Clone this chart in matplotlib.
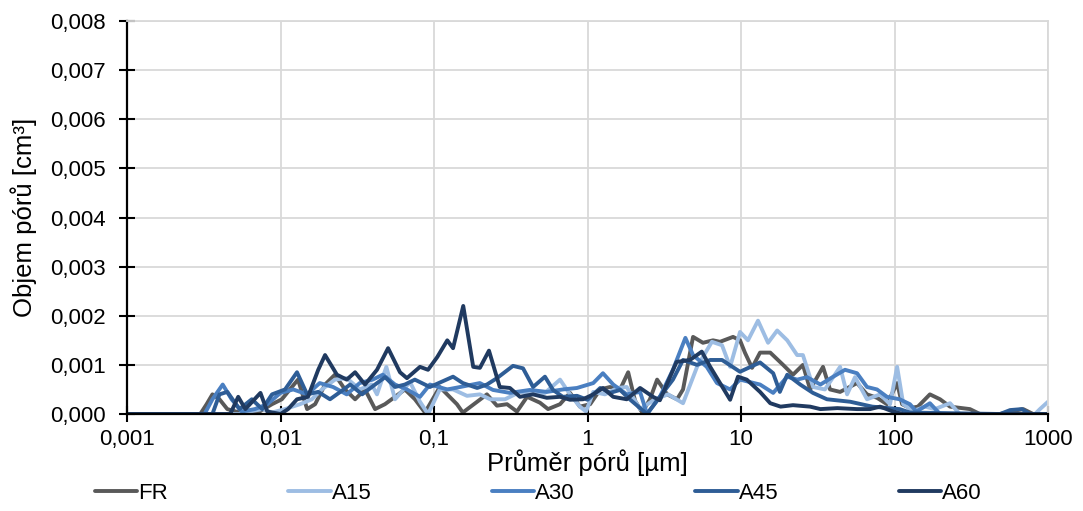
import matplotlib
matplotlib.use("Agg")
import matplotlib.pyplot as plt
from matplotlib.ticker import FixedLocator, FixedFormatter, NullLocator

plt.rcParams['font.family'] = ['Liberation Sans', 'DejaVu Sans']

# průměr pórů [µm] a objem pórů [cm3] pro jednotlivé vzorky
fr_x = [0.001, 0.003, 0.0033, 0.0036, 0.004, 0.0045, 0.0054, 0.0073, 0.0088, 0.0102, 0.0115, 0.013,
        0.0149, 0.0168, 0.0195, 0.0226, 0.0263, 0.0306, 0.0355, 0.0413, 0.0479, 0.0557, 0.0646, 0.0751,
        0.0873, 0.109, 0.141, 0.154, 0.191, 0.221, 0.257, 0.299, 0.347, 0.404, 0.49, 0.553, 0.662, 0.769,
        0.892, 1.04, 1.21, 1.4, 1.63, 1.84, 2.04, 2.27, 2.55, 2.84, 3.3, 3.83, 4.19, 4.87, 5.65, 6.57, 7.3,
        8.87, 9.85, 10.6, 11.8, 13.3, 15.5, 18.8, 21.8, 25.3, 28.2, 34.2, 38, 44.2, 57, 66.2, 76.9, 89.3,
        104, 112, 126, 142, 170, 198, 230, 310, 360, 487, 566, 689, 800, 1000]
fr_y = [0, 0, 0.0002, 0.0004, 0.0003, 0.0001, 0.00003, 0.00005, 0.0002, 0.0003, 0.0005, 0.0007,
        0.0001, 0.0002, 0.0006, 0.0008, 0.0005, 0.0003, 0.0005, 0.0001, 0.0002, 0.00035, 0.0005, 0.0003,
        0.00003, 0.00055, 0.0002, 0.00003, 0.00025, 0.0004, 0.00017, 0.0002, 0.00005, 0.00035, 0.00023,
        0.0001, 0.0002, 0.00043, 0.00015, 0.0002, 0.0005, 0.00055, 0.0005, 0.00085, 0.00027, 0.00003,
        0.0003, 0.0007, 0.0004, 0.0003, 0.0005, 0.00157, 0.00145, 0.0015, 0.00147, 0.00157, 0.0015,
        0.00125, 0.00094, 0.00125, 0.00125, 0.001, 0.0008, 0.001, 0.0005, 0.00096, 0.0005, 0.00045,
        0.00063, 0.0004, 0.00033, 0.0002, 0.00063, 0.0002, 0.00012, 0.00015, 0.0004, 0.0003, 0.00015,
        0.0001, 0, 0, 0.00005, 0.0001, 0, 0]

a15_x = [0.001, 0.0054, 0.0063, 0.0076, 0.0088, 0.0107, 0.0134, 0.016, 0.0186, 0.0226, 0.027, 0.0328,
         0.0393, 0.0425, 0.0489, 0.0557, 0.0697, 0.081, 0.0914, 0.109, 0.133, 0.164, 0.199, 0.232, 0.29,
         0.363, 0.455, 0.528, 0.662, 0.769, 0.892, 0.978, 1.09, 1.3, 1.56, 1.8, 2.2, 2.75, 3.35, 4.19,
         5.17, 6.46, 7.52, 8.49, 9.85, 11.1, 12.9, 15.0, 17.2, 20, 23.2, 25.3, 29.5, 35.2, 44.2, 49.1,
         55.3, 66.2, 80.5, 93.5, 104, 114, 132, 158, 183, 230, 266, 823, 886, 1000]
a15_y = [0, 0, 0.00005, 0.0001, 0.00003, 0.0001, 0.0002, 0.0003, 0.0005, 0.0007, 0.00073, 0.0005,
         0.0006, 0.0004, 0.00096, 0.0003, 0.00065, 0.00025, 0, 0.0005, 0.0005, 0.00037, 0.0004, 0.0003,
         0.0003, 0.00045, 0.0004, 0.00043, 0.0007, 0.0004, 0.00015, 0.00005, 0.00045, 0.0004, 0.00053,
         0.00055, 0.0001, 0.0003, 0.0004, 0.00022, 0.00096, 0.00147, 0.0014, 0.00096, 0.00167, 0.0015,
         0.0019, 0.00145, 0.0017, 0.0015, 0.0012, 0.0012, 0.00055, 0.0005, 0.00096, 0.0004, 0.00075,
         0.0003, 0.0004, 0.0002, 0.00096, 0.0002, 0.00006, 0.00015, 0.0001, 0.00022, 0, 0, 0.0001, 0.00025]

a30_x = [0.001, 0.0032, 0.0036, 0.0042, 0.0048, 0.0056, 0.0068, 0.0082, 0.01, 0.0121, 0.0149, 0.018,
         0.022, 0.027, 0.0328, 0.0398, 0.0464, 0.0557, 0.0666, 0.081, 0.094, 0.122, 0.148, 0.199, 0.242,
         0.312, 0.421, 0.543, 0.69, 0.854, 1.09, 1.26, 1.47, 1.8, 2.2, 2.44, 2.96, 3.6, 4.34, 4.87, 5.98,
         6.97, 8.49, 9.85, 13.3, 16.2, 20, 23.2, 26.9, 32.9, 39.9, 47.6, 57, 66.2, 76.9, 89.3, 108, 126,
         139, 170, 198, 1000]
a30_y = [0, 0, 0.0003, 0.0006, 0.0003, 0.00005, 0.0001, 0.0002, 0.00043, 0.0005, 0.0004, 0.00063,
         0.00055, 0.0004, 0.00063, 0.0007, 0.0008, 0.0006, 0.0005, 0.00035, 0.0006, 0.0005, 0.00055,
         0.00063, 0.00049, 0.00043, 0.00049, 0.00045, 0.0005, 0.00053, 0.00063, 0.00083, 0.0006, 0.0004,
         0.00045, 0, 0.00035, 0.0009, 0.00155, 0.0012, 0.00096, 0.00063, 0.0005, 0.0007, 0.0006, 0.00043,
         0.00076, 0.0007, 0.00075, 0.0006, 0.00076, 0.0009, 0.00083, 0.00055, 0.0005, 0.00035, 0.0003,
         0.0002, 0.00005, 0.00022, 0, 0]

a45_x = [0.001, 0.0036, 0.004, 0.0045, 0.0054, 0.0065, 0.0076, 0.0088, 0.0107, 0.0128, 0.0149, 0.0176,
         0.021, 0.0245, 0.0284, 0.034, 0.0413, 0.048, 0.0557, 0.0646, 0.075, 0.094, 0.133, 0.154, 0.191,
         0.221, 0.257, 0.327, 0.38, 0.442, 0.528, 0.596, 0.69, 0.854, 1.0, 1.21, 1.4, 1.63, 1.9, 2.44,
         2.96, 3.6, 4.19, 5.17, 6.3, 7.52, 9.85, 13.3, 16.2, 17.9, 20, 24.3, 29.4, 36.3, 51.4, 71.7, 108,
         126, 487, 566, 676, 763, 1000]
a45_y = [0, 0, 0.0004, 0.00045, 0.0001, 0.0003, 0.0001, 0.0004, 0.0005, 0.00085, 0.0004, 0.00045,
         0.0003, 0.00045, 0.0006, 0.0004, 0.0006, 0.00075, 0.00055, 0.0006, 0.0007, 0.00055, 0.00076,
         0.00063, 0.00053, 0.0006, 0.00073, 0.00098, 0.00093, 0.00055, 0.00076, 0.00049, 0.00035,
         0.00037, 0.00029, 0.00053, 0.00043, 0.00049, 0.00029, 0, 0.00035, 0.0007, 0.0011, 0.001, 0.0011,
         0.0011, 0.00086, 0.00105, 0.00083, 0.00045, 0.0008, 0.0006, 0.00043, 0.0003, 0.00025, 0.00015,
         0.0001, 0.00003, 0, 0.00008, 0.0001, 0, 0]

a60_x = [0.001, 0.0047, 0.0053, 0.0059, 0.0074, 0.0082, 0.01, 0.0112, 0.0128, 0.0151, 0.0176, 0.0195,
         0.0233, 0.027, 0.0306, 0.0355, 0.0425, 0.0502, 0.06, 0.0666, 0.081, 0.0914, 0.105, 0.122, 0.133,
         0.155, 0.18, 0.199, 0.228, 0.268, 0.312, 0.363, 0.442, 0.543, 0.662, 0.769, 0.934, 1.09, 1.26,
         1.47, 1.8, 2.2, 2.67, 2.96, 3.8, 4.65, 5.55, 6.3, 8.49, 9.55, 10.9, 13.3, 15.5, 18.1, 21.8, 28.2,
         32.9, 42.4, 57, 69.3, 80.5, 97.8, 114, 1000]
a60_y = [0, 0, 0.00035, 0.0001, 0.00043, 0.00005, 0, 0.0001, 0.0003, 0.00035, 0.0009, 0.0012,
         0.0008, 0.0007, 0.00085, 0.0006, 0.0009, 0.00134, 0.00085, 0.00073, 0.00096, 0.0009, 0.00116,
         0.0015, 0.00134, 0.0022, 0.00096, 0.00094, 0.00129, 0.00055, 0.00053, 0.00035, 0.0004, 0.00033,
         0.00035, 0.00029, 0.0003, 0.0004, 0.00053, 0.00035, 0.0003, 0.00053, 0.00035, 0.00028, 0.00106,
         0.0011, 0.00127, 0.00096, 0.00029, 0.00076, 0.0007, 0.00045, 0.00022, 0.00015, 0.00018, 0.00015,
         0.0001, 0.00012, 0.0001, 0.0001, 0.00015, 0.00005, 0, 0]

nazvy = ['FR', 'A15', 'A30', 'A45', 'A60']
barvy = ['#595959', '#9dbde3', '#4a7fc1', '#2e5d96', '#203a60']

x_ticks = [0.001, 0.01, 0.1, 1, 10, 100, 1000]
x_labels = ['0,001', '0,01', '0,1', '1', '10', '100', '1000']
y_ticks = [0, 0.001, 0.002, 0.003, 0.004, 0.005, 0.006, 0.007, 0.008]
y_labels = ['0,000', '0,001', '0,002', '0,003', '0,004', '0,005', '0,006', '0,007', '0,008']

fig = plt.figure(figsize=(10.83, 5.11), dpi=100)
ax = fig.add_axes([0.1173, 0.1898, 0.8504, 0.7691])

data = [(fr_x, fr_y), (a15_x, a15_y), (a30_x, a30_y), (a45_x, a45_y), (a60_x, a60_y)]
for (xs, ys), nazev, barva in zip(data, nazvy, barvy):
    ax.plot(xs, ys, color=barva, lw=2.8, label=nazev, solid_joinstyle='round', solid_capstyle='round')

ax.set_xscale('log')
ax.set_xlim(0.001, 1000)
ax.set_ylim(0, 0.008)

ax.xaxis.set_major_locator(FixedLocator(x_ticks))
ax.xaxis.set_major_formatter(FixedFormatter(x_labels))
ax.xaxis.set_minor_locator(NullLocator())
ax.yaxis.set_major_locator(FixedLocator(y_ticks))
ax.yaxis.set_major_formatter(FixedFormatter(y_labels))

ax.grid(True, color='#d9d9d9', lw=1.3)
ax.set_axisbelow(True)
for s in ['top', 'right']:
    ax.spines[s].set_color('#d9d9d9')
    ax.spines[s].set_linewidth(1.3)
for s in ['left', 'bottom']:
    ax.spines[s].set_color('black')
    ax.spines[s].set_linewidth(1.6)

ax.tick_params(axis='both', direction='inout', length=11, width=1.5, labelsize=16, colors='black')
ax.tick_params(axis='x', pad=5)
ax.tick_params(axis='y', pad=10)

ax.set_xlabel('Průměr pórů [µm]', fontsize=18.5, labelpad=0)
ax.set_ylabel('Objem pórů [cm³]', fontsize=18.5, labelpad=9)

fig.legend(loc='center', bbox_to_anchor=(0.497, 0.035), ncol=5, frameon=False, fontsize=16,
           handlelength=1.9, handletextpad=0.05, columnspacing=5.42)

fig.savefig('out.png', dpi=100)
